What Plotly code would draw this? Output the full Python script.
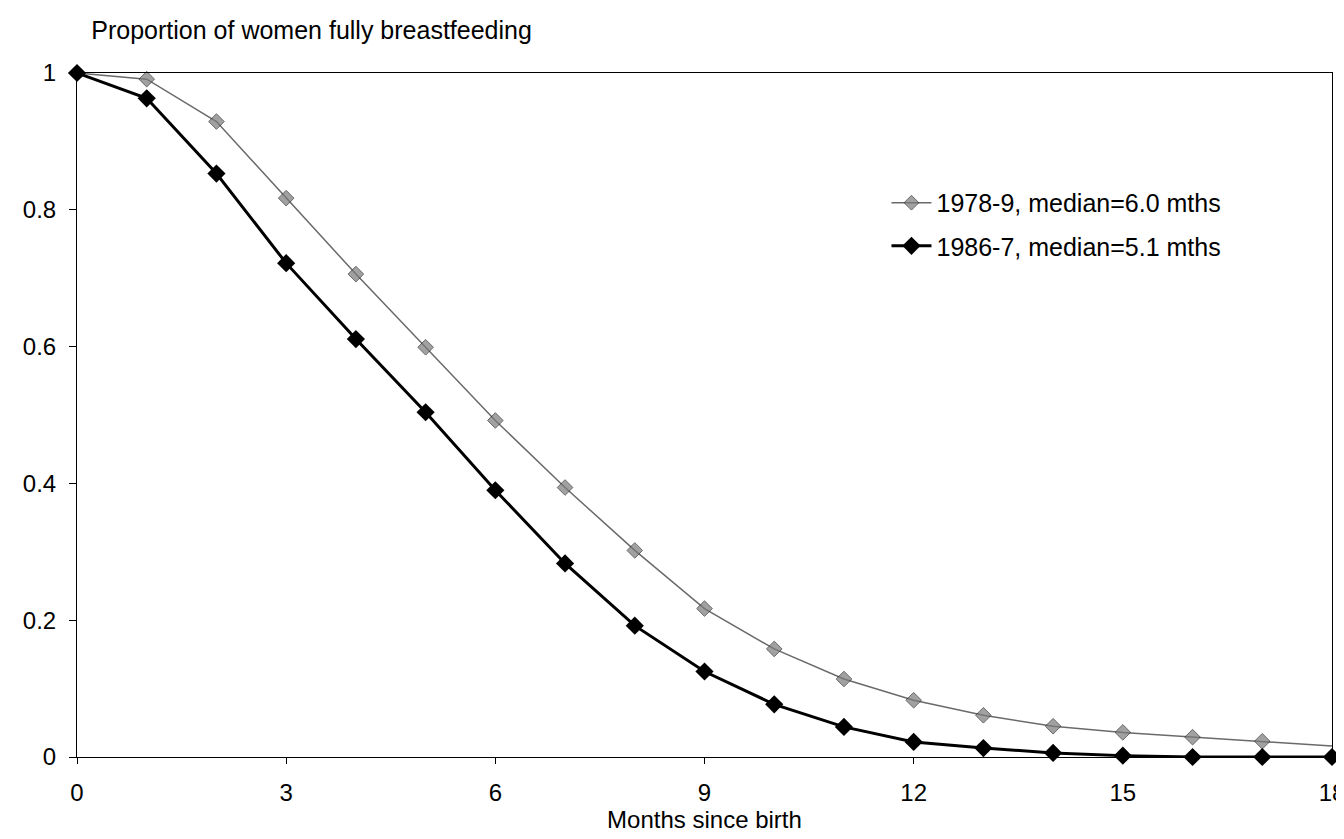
import plotly.graph_objects as go

months = list(range(0, 19))

# 1978-9 series (grey)
prop_1978 = [1.0, 0.991, 0.929, 0.817, 0.706, 0.599, 0.492, 0.394, 0.302, 0.217,
             0.158, 0.114, 0.083, 0.061, 0.045, 0.036, 0.029, 0.023, 0.016]
# 1986-7 series (black)
prop_1986 = [1.0, 0.963, 0.853, 0.722, 0.611, 0.504, 0.390, 0.283, 0.192, 0.125,
             0.077, 0.044, 0.022, 0.013, 0.006, 0.002, 0.0, 0.0, 0.0]

name_1978 = "1978-9, median=6.0 mths"
name_1986 = "1986-7, median=5.1 mths"

x_ticks = [0, 3, 6, 9, 12, 15, 18]
y_ticks = [0, 0.2, 0.4, 0.6, 0.8, 1]
y_tick_text = ["0", "0.2", "0.4", "0.6", "0.8", "1"]

font_family = "Liberation Sans, Arial, sans-serif"
fs = 24

fig = go.Figure()

# grey series has no marker drawn at the last point (hidden by the frame)
grey_sizes = [12] * (len(months) - 1) + [0]

fig.add_trace(go.Scatter(
    x=months,
    y=prop_1978,
    name=name_1978,
    mode="lines+markers",
    line=dict(color="#6a6a6a", width=1.5),
    marker=dict(symbol="diamond", size=grey_sizes, color="#7a7a7a",
                line=dict(color="#2a2a2a", width=1)),
    cliponaxis=False,
    legend="legend",
))

fig.add_trace(go.Scatter(
    x=months,
    y=prop_1986,
    name=name_1986,
    mode="lines+markers",
    line=dict(color="#000000", width=3),
    marker=dict(symbol="diamond", size=14, color="#000000"),
    cliponaxis=False,
    legend="legend2",
))

legend_common = dict(
    xanchor="left", yanchor="middle",
    bgcolor="rgba(0,0,0,0)",
    font=dict(family=font_family, size=25, color="#000000"),
    itemwidth=40,
)

fig.update_layout(
    width=1344,
    height=839,
    margin=dict(l=69, r=20, t=65, b=90),
    paper_bgcolor="white",
    plot_bgcolor="white",
    font=dict(family=font_family, size=fs, color="#000000"),
    title=dict(
        text="Proportion of women fully breastfeeding",
        x=0.062, xanchor="left",
        y=0.973, yanchor="middle",
        font=dict(family=font_family, size=25, color="#000000"),
    ),
    showlegend=True,
    legend=dict(x=0.645, y=0.810, **legend_common),
    legend2=dict(x=0.645, y=0.747, **legend_common),
    xaxis=dict(
        range=[0, 18],
        tickvals=x_ticks,
        ticks="outside",
        ticklen=6,
        tickcolor="#000000",
        ticklabelstandoff=8,
        showgrid=False,
        zeroline=False,
        showline=True,
        linecolor="#000000",
        linewidth=1,
        mirror=True,
        automargin=False,
        title=dict(text="Months since birth", standoff=4,
                   font=dict(family=font_family, size=fs)),
        tickfont=dict(family=font_family, size=fs),
    ),
    yaxis=dict(
        range=[0, 1],
        tickvals=y_ticks,
        ticktext=y_tick_text,
        ticks="outside",
        ticklen=7,
        tickcolor="#000000",
        ticklabelstandoff=8,
        showgrid=False,
        zeroline=False,
        showline=True,
        linecolor="#000000",
        linewidth=1,
        mirror=True,
        automargin=False,
        tickfont=dict(family=font_family, size=fs),
    ),
)

fig.write_html("out.html")
